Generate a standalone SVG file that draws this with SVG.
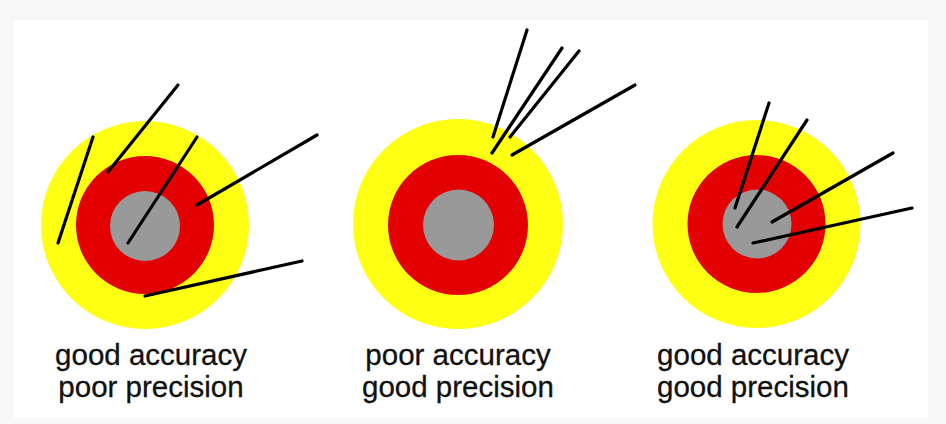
<svg xmlns="http://www.w3.org/2000/svg" width="946" height="424" viewBox="0 0 946 424">
<style>
.y{fill:#ffff14}
.r{fill:#e20000}
.g{fill:#999999}
.shot{stroke:#000;stroke-width:3.2;stroke-linecap:round;fill:none}
.lbl{font-family:"Liberation Sans",Arial,sans-serif;font-size:29.5px;fill:#111;stroke:#111;stroke-width:0.3;text-anchor:middle}
</style>
<rect x="0" y="0" width="946" height="424" fill="#f8f8f8"/>
<rect x="14" y="20" width="914" height="398" fill="#ffffff"/>
<g id="target1">
<circle class="y" cx="145" cy="225" r="104"/>
<circle class="r" cx="145" cy="225" r="69"/>
<circle class="g" cx="145" cy="226" r="35"/>
<text class="lbl" x="151" y="365">good accuracy</text>
<text class="lbl" x="151" y="397">poor precision</text>
</g>
<g id="target2">
<circle class="y" cx="458" cy="224" r="105"/>
<circle class="r" cx="458" cy="225" r="70"/>
<circle class="g" cx="458.5" cy="225" r="35.5"/>
<text class="lbl" x="458" y="365">poor accuracy</text>
<text class="lbl" x="458" y="397">good precision</text>
</g>
<g id="target3">
<circle class="y" cx="756.5" cy="224" r="104"/>
<circle class="r" cx="756.5" cy="224" r="69"/>
<circle class="g" cx="757" cy="224" r="34.5"/>
<text class="lbl" x="753" y="365">good accuracy</text>
<text class="lbl" x="753" y="397">good precision</text>
</g>
<g id="connectors">
<line class="shot" x1="58" y1="243" x2="93" y2="137"/>
<line class="shot" x1="108" y1="172" x2="178" y2="85"/>
<line class="shot" x1="128" y1="243" x2="197" y2="137"/>
<line class="shot" x1="197" y1="205" x2="317" y2="135"/>
<line class="shot" x1="145" y1="296" x2="302" y2="261"/>
<line class="shot" x1="493" y1="137" x2="527" y2="30"/>
<line class="shot" x1="492" y1="153" x2="562" y2="48"/>
<line class="shot" x1="510" y1="137" x2="579" y2="51"/>
<line class="shot" x1="512" y1="155" x2="635" y2="85"/>
<line class="shot" x1="735" y1="208" x2="769" y2="103"/>
<line class="shot" x1="737" y1="227" x2="807" y2="120"/>
<line class="shot" x1="772" y1="222" x2="893" y2="153"/>
<line class="shot" x1="753" y1="243" x2="912" y2="208"/>
</g>
</svg>
